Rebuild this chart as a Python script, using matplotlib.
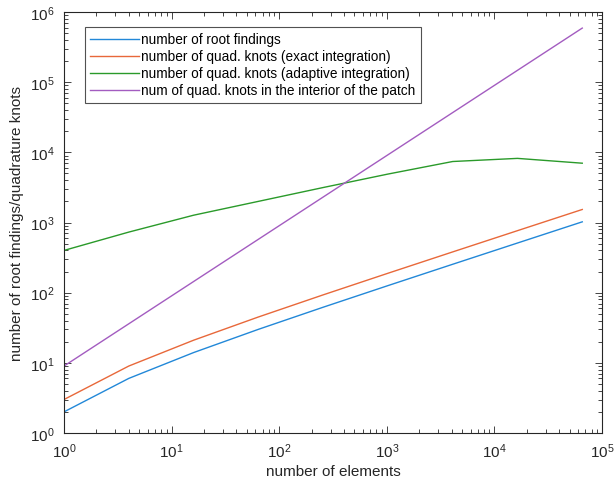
# loglog plot: root findings / quadrature knots vs number of elements
import matplotlib
matplotlib.use("Agg")
import matplotlib.pyplot as plt
from matplotlib.ticker import LogLocator, NullFormatter

elements = [1, 4, 16, 64, 256, 1024, 4096, 16384, 65536]
root_findings = [2, 6, 14, 30, 62, 126, 254, 510, 1022]
knots_exact = [3, 9, 21, 45, 93, 189, 381, 765, 1533]
knots_adaptive = [400, 730, 1270, 2000, 3150, 4900, 7400, 8200, 7000]
knots_interior = [9, 36, 144, 576, 2304, 9216, 36864, 147456, 589824]

labels = ["number of root findings",
          "number of quad. knots (exact integration)",
          "number of quad. knots (adaptive integration)",
          "num of quad. knots in the interior of the patch"]
colors = ["#2288d8", "#e8683a", "#2a9a2a", "#a35cc0"]

plt.rcParams['font.family'] = ['Liberation Sans', 'DejaVu Sans']
plt.rcParams['mathtext.fontset'] = 'custom'
plt.rcParams['mathtext.rm'] = 'Liberation Sans'
plt.rcParams['mathtext.it'] = 'Liberation Sans'

dark = "#262626"
fig = plt.figure(figsize=(6.14, 4.85), dpi=100)
ax = fig.add_axes([64 / 614, 51 / 485, 538 / 614, 421 / 485])

series = [root_findings, knots_exact, knots_adaptive, knots_interior]
for vals, lab, col in zip(series, labels, colors):
    ax.loglog(elements, vals, color=col, linewidth=1.0, label=lab)

ax.set_xlim(1, 1e5)
ax.set_ylim(1, 1e6)
ax.xaxis.set_major_locator(LogLocator(base=10, numticks=10))
ax.yaxis.set_major_locator(LogLocator(base=10, numticks=10))
ax.xaxis.set_minor_locator(LogLocator(base=10, subs=range(2, 10), numticks=20))
ax.yaxis.set_minor_locator(LogLocator(base=10, subs=range(2, 10), numticks=20))
ax.xaxis.set_minor_formatter(NullFormatter())
ax.yaxis.set_minor_formatter(NullFormatter())
ax.tick_params(which='both', direction='in', top=True, right=True,
               colors=dark, labelsize=11)
ax.tick_params(which='major', length=5, width=0.6)
ax.tick_params(which='minor', length=3, width=0.6,
               labelbottom=False, labelleft=False)
ax.tick_params(axis='y', which='major', pad=7)
ax.tick_params(axis='x', which='major', pad=6)
ax.xaxis.get_offset_text().set_visible(False)
ax.yaxis.get_offset_text().set_visible(False)
for sp in ax.spines.values():
    sp.set_color(dark)
    sp.set_linewidth(0.8)

ax.set_xlabel("number of elements", fontsize=11, color=dark, labelpad=3)
ax.set_ylabel("number of root findings/quadrature knots", fontsize=11,
              color=dark, labelpad=4)

leg = ax.legend(loc='upper left', bbox_to_anchor=(21 / 538, 406 / 421),
                borderaxespad=0, fontsize=9.8, frameon=True, fancybox=False,
                edgecolor=dark, handlelength=3.6, handletextpad=0.1,
                labelspacing=0.22, borderpad=0.4)
leg.get_frame().set_linewidth(0.8)

fig.savefig("out.png", dpi=100)
